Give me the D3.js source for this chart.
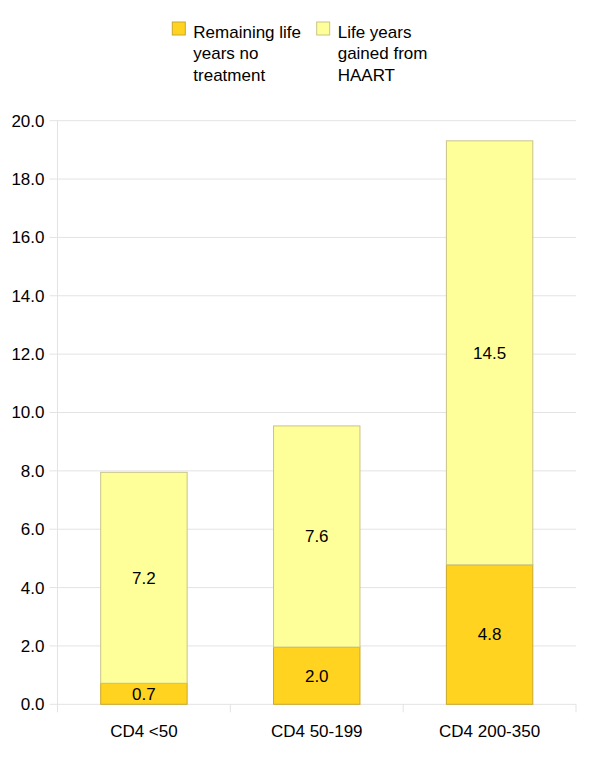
<!DOCTYPE html>
<html>
<head>
<meta charset="utf-8">
<script src="https://cdn.jsdelivr.net/npm/d3@7"></script>
<style>
  body { margin: 0; background: #fff; }
  text { font-family: "Liberation Sans", Arial, sans-serif; fill: #000; }
</style>
</head>
<body>
<div id="ChartContainer"></div>
<script>
var categories = ["CD4 <50", "CD4 50-199", "CD4 200-350"]
var remainingNoTreatment = [0.72, 1.96, 4.78]
var gainedFromHaart = [7.23, 7.58, 14.53]
var seriesNames = ["Remaining life years no treatment", "Life years gained from HAART"]
var legendLines = [["Remaining life", "years no", "treatment"], ["Life years", "gained from", "HAART"]]
var yTicks = [0, 2, 4, 6, 8, 10, 12, 14, 16, 18, 20]

var fullWidth = 600
var fullHeight = 758
var margin = { top: 120.7, right: 24, bottom: 53.7, left: 57.5 }
var width = fullWidth - margin.left - margin.right
var height = fullHeight - margin.top - margin.bottom
var fontSize = "17px"
var colors = ["#ffd320", "#ffff99"]
var strokes = ["#c9a82a", "#c8c388"]
var gridColor = "#e3e3e3"

var svg = d3.select("#ChartContainer").append("svg")
  .attr("width", fullWidth)
  .attr("height", fullHeight)

var g = svg.append("g")
  .attr("transform", `translate(${margin.left},${margin.top})`)

var x = d3.scaleBand()
  .domain(categories)
  .range([0, width])
  .paddingInner(0.5)
  .paddingOuter(0.25)
var xOuter = d3.scaleBand().domain(categories).range([0, width])
var y = d3.scaleLinear().domain([0, 20]).range([height, 0])

// gridlines
g.selectAll(".Grid")
  .data(yTicks)
  .enter().append("line")
  .attr("x1", -8)
  .attr("x2", width)
  .attr("y1", d => y(d))
  .attr("y2", d => y(d))
  .attr("stroke", gridColor)

// y-axis line
g.append("line")
  .attr("x1", 0).attr("x2", 0)
  .attr("y1", 0).attr("y2", height + 8)
  .attr("stroke", gridColor)

// category separators
g.selectAll(".Sep")
  .data(categories)
  .enter().append("line")
  .attr("x1", d => xOuter(d) + xOuter.bandwidth())
  .attr("x2", d => xOuter(d) + xOuter.bandwidth())
  .attr("y1", height)
  .attr("y2", height + 8)
  .attr("stroke", gridColor)

// y tick labels
g.selectAll(".YLabel")
  .data(yTicks)
  .enter().append("text")
  .attr("x", -13)
  .attr("y", d => y(d))
  .attr("dy", "0.35em")
  .attr("text-anchor", "end")
  .attr("font-size", fontSize)
  .text(d3.format(".1f"))

// stacked data
var rows = categories.map((c, i) => ({ cat: c, a: remainingNoTreatment[i], b: gainedFromHaart[i] }))
var stack = d3.stack().keys(["a", "b"])(rows)

stack.forEach((layer, k) => {
  g.selectAll(".Bar" + k)
    .data(layer)
    .enter().append("rect")
    .attr("x", d => x(d.data.cat))
    .attr("y", d => y(d[1]))
    .attr("width", x.bandwidth())
    .attr("height", d => y(d[0]) - y(d[1]))
    .attr("fill", colors[k])
    .attr("stroke", strokes[k])
    .attr("stroke-width", 1)

  g.selectAll(".Val" + k)
    .data(layer)
    .enter().append("text")
    .attr("x", d => x(d.data.cat) + x.bandwidth() / 2)
    .attr("y", d => (y(d[0]) + y(d[1])) / 2)
    .attr("dy", "0.35em")
    .attr("text-anchor", "middle")
    .attr("font-size", fontSize)
    .text(d => d3.format(".1f")(d[1] - d[0]))
})

// x labels
g.selectAll(".XLabel")
  .data(categories)
  .enter().append("text")
  .attr("x", d => xOuter(d) + xOuter.bandwidth() / 2)
  .attr("y", height + 32.5)
  .attr("text-anchor", "middle")
  .attr("font-size", fontSize)
  .text(d => d)

// Legend
var legendX = [172.3, 316.7]
seriesNames.forEach((name, k) => {
  svg.append("rect")
    .attr("x", legendX[k])
    .attr("y", 22)
    .attr("width", 13)
    .attr("height", 13)
    .attr("fill", colors[k])
    .attr("stroke", strokes[k])
  var t = svg.append("text")
    .attr("x", legendX[k] + 21)
    .attr("y", 37.5)
    .attr("font-size", fontSize)
  legendLines[k].forEach((line, j) => {
    t.append("tspan")
      .attr("x", legendX[k] + 21)
      .attr("dy", j === 0 ? 0 : 21.8)
      .text(line)
  })
})
</script>
</body>
</html>
